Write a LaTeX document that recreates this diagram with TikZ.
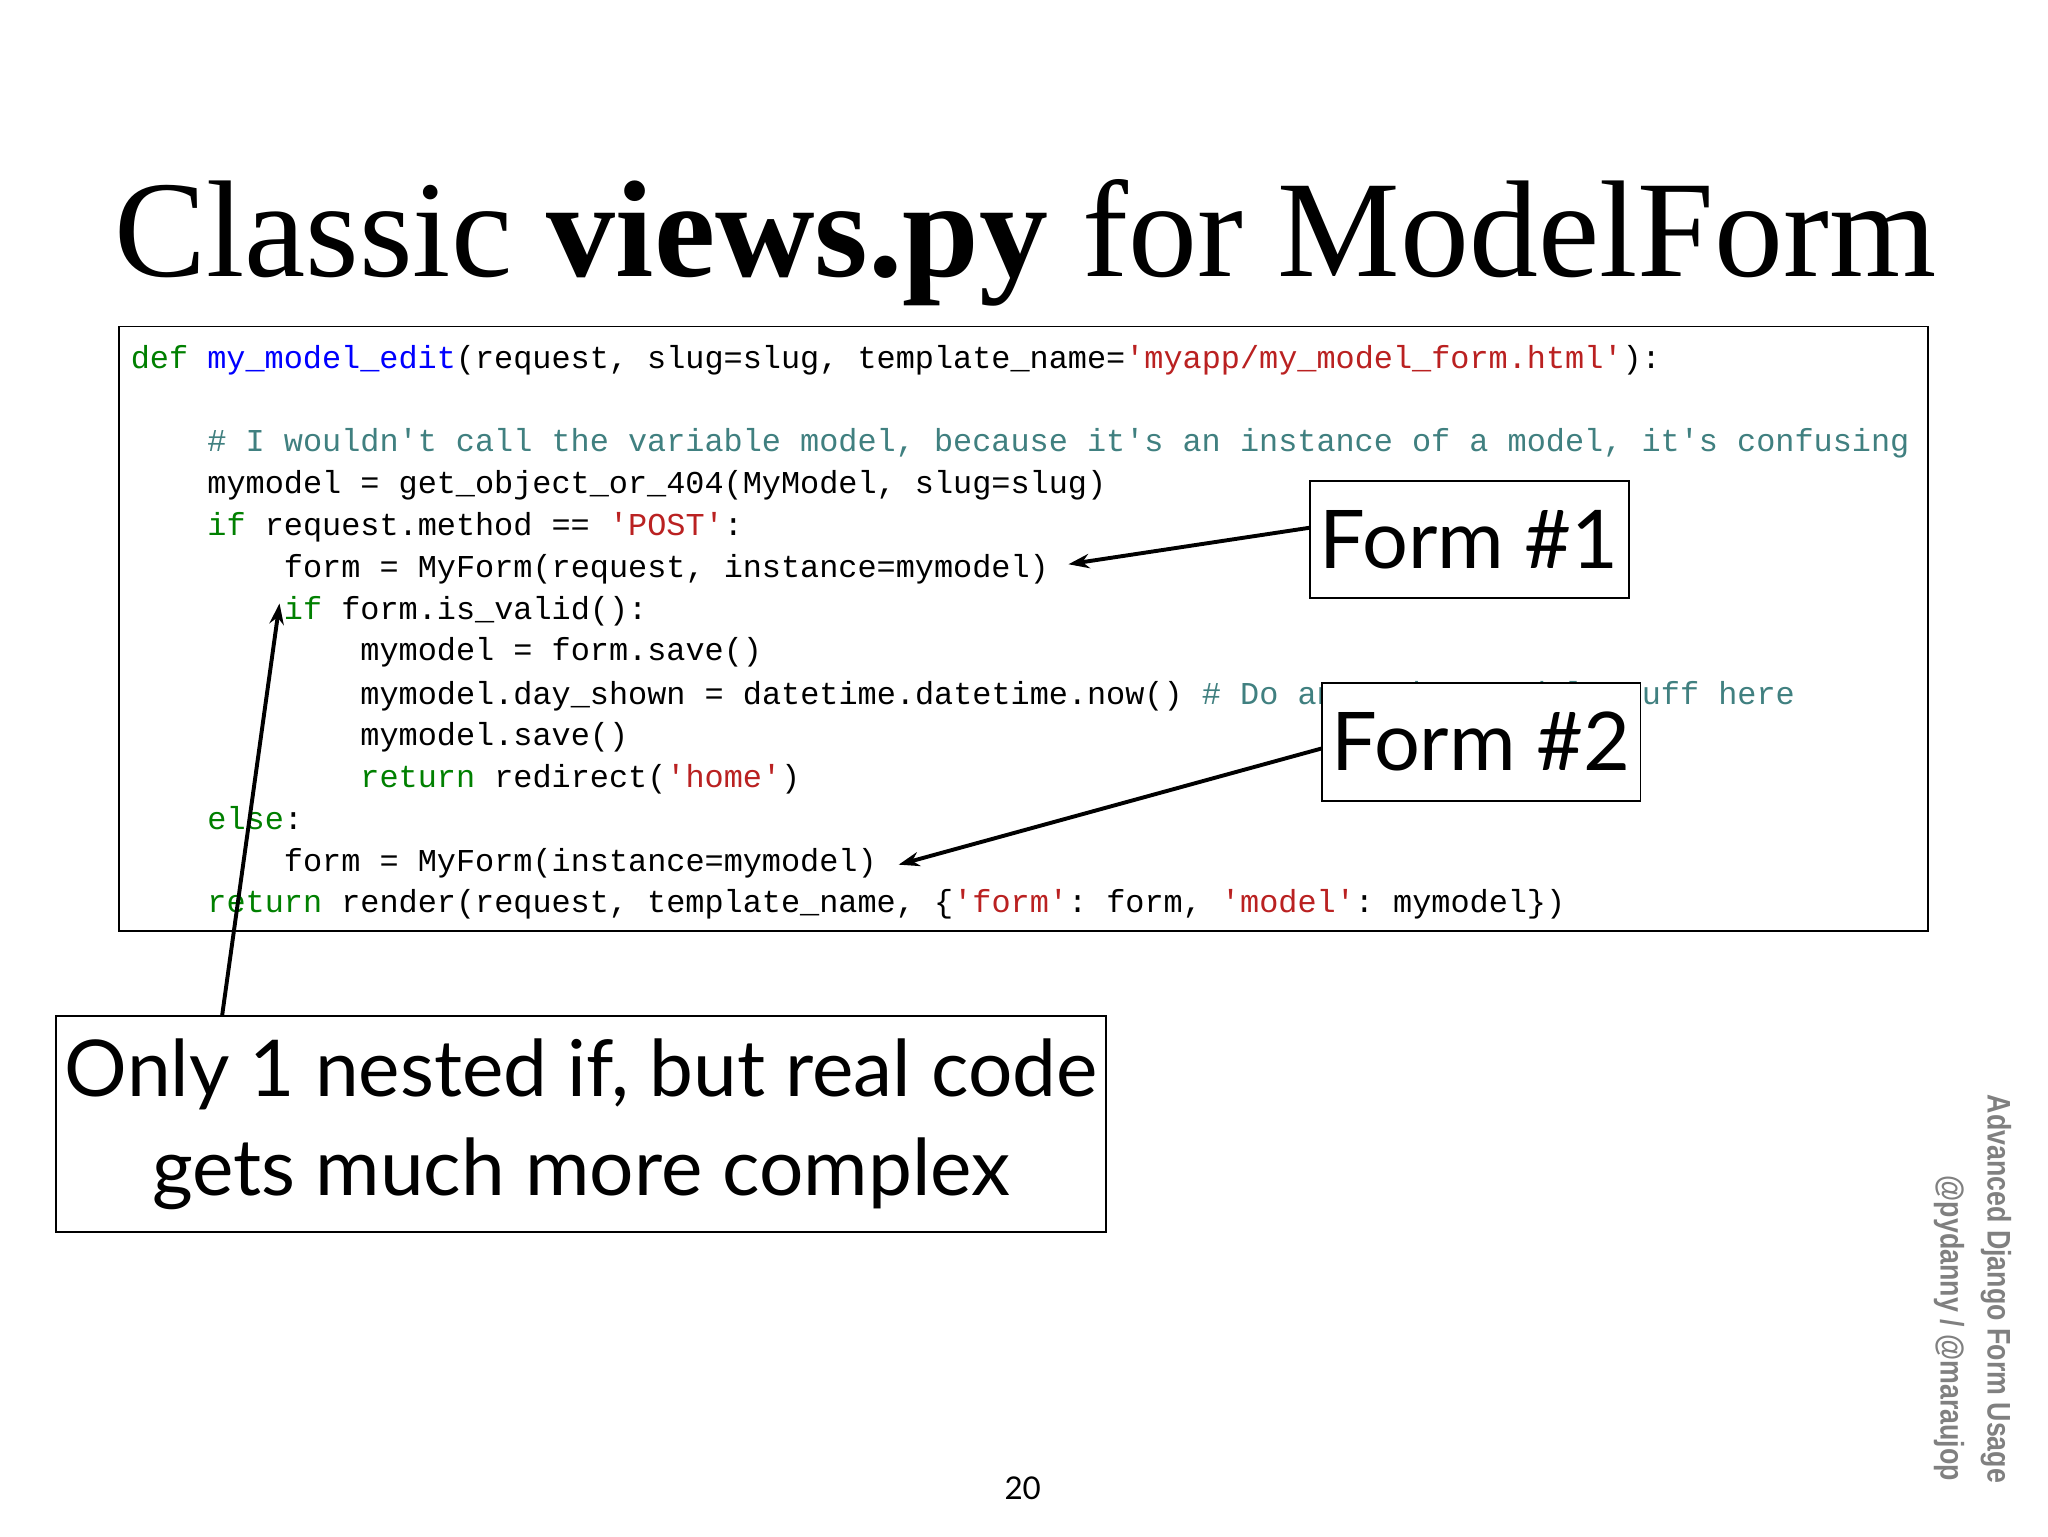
\documentclass[tikz,border=0pt]{standalone}
\usepackage{fontspec}
\setmainfont{Liberation Serif}
\setmonofont{Liberation Mono}
\newfontfamily\gill{Lato}
\newfontfamily\side[FakeStretch=0.82]{Liberation Sans Bold}
\usetikzlibrary{arrows.meta}
\definecolor{kw}{RGB}{0,128,0}
\definecolor{fn}{RGB}{0,0,255}
\definecolor{st}{RGB}{186,33,33}
\definecolor{cm}{RGB}{64,128,128}
\newcommand{\K}[1]{\textcolor{kw}{#1}}
\newcommand{\F}[1]{\textcolor{fn}{#1}}
\newcommand{\Sx}[1]{\textcolor{st}{#1}}
\newcommand{\C}[1]{\textcolor{cm}{#1}}
\begin{document}
\begin{tikzpicture}[x=1pt,y=-1pt,
  code/.style={anchor=base west,inner sep=0pt,font=\fontsize{24.4}{26}\ttfamily},
  callout/.style={draw,line width=1.3pt,fill=white,inner sep=0pt,font=\gill},
  arr/.style={-{Stealth[length=16pt,width=11pt]},line width=3pt}]
\useasboundingbox[fill=white] (0,0) rectangle (1568,1176);
\node[anchor=base,inner sep=0pt,font=\fontsize{105.5}{110}\selectfont] (title) at (785,212) {Classic \textbf{views.py} for ModelForm};
\draw[line width=1.3pt] (91,250) rectangle (1476,713);
\def\cw{14.65}
\node[code] (l1) at (100,282) {\K{def} \F{my\_model\_edit}(request, slug=slug, template\_name=\Sx{'myapp/my\_model\_form.html'}):};
\node[code] (l3) at (100+4*\cw,346) {\C{\# I wouldn't call the variable model, because it's an instance of a model, it's confusing}};
\node[code] (l4) at (100+4*\cw,378) {mymodel = get\_object\_or\_404(MyModel, slug=slug)};
\node[code] (l5) at (100+4*\cw,410) {\K{if} request.method == \Sx{'POST'}:};
\node[code] (l6) at (100+8*\cw,442) {form = MyForm(request, instance=mymodel)};
\node[code] (l7) at (100+8*\cw,474) {\K{if} form.is\_valid():};
\node[code] (l8) at (100+12*\cw,506) {mymodel = form.save()};
\node[code] (l9) at (100+12*\cw,539) {mymodel.day\_shown = datetime.datetime.now() \C{\# Do any other model stuff here}};
\node[code] (l10) at (100+12*\cw,571) {mymodel.save()};
\node[code] (l11) at (100+12*\cw,603) {\K{return} redirect(\Sx{'home'})};
\node[code] (l12) at (100+4*\cw,635) {\K{else}:};
\node[code] (l13) at (100+8*\cw,667) {form = MyForm(instance=mymodel)};
\node[code] (l14) at (100+4*\cw,699) {\K{return} render(request, template\_name, \{\Sx{'form'}: form, \Sx{'model'}: mymodel\})};
\node[callout,minimum width=244pt,minimum height=90pt,font=\gill\fontsize{62}{64}\selectfont] (f1) at (1125,413) {Form \#1};
\node[callout,minimum width=244pt,minimum height=90pt,font=\gill\fontsize{62}{64}\selectfont] (f2) at (1134,568) {Form \#2};
\node[callout,minimum width=804pt,minimum height=165pt,align=center,font=\gill\fontsize{60}{76}\selectfont] (f3) at (445,860.5) {Only 1 nested if, but real code\\gets much more complex};
\coordinate (a1) at (818,432);
\coordinate (a2) at (688,662);
\coordinate (a3) at (214,462);
\coordinate (s1) at (1003,404);
\coordinate (s2) at (1012,573);
\coordinate (s3) at (170,778);
\draw[arr] (s1) -- (a1);
\draw[arr] (s2) -- (a2);
\draw[arr] (s3) -- (a3);
\node[anchor=base,inner sep=0pt,font=\gill\fontsize{24}{26}\selectfont] (pg) at (783,1148) {20};
\node[rotate=-90,anchor=north west,inner sep=0pt,text=gray,font=\side\fontsize{25}{27}\selectfont] (sd1) at (1540,838) {Advanced Django Form Usage};
\node[rotate=-90,anchor=north west,inner sep=0pt,text=gray,font=\side\fontsize{25}{27}\selectfont] (sd2) at (1504,900) {@pydanny / @maraujop};
\end{tikzpicture}
\end{document}
